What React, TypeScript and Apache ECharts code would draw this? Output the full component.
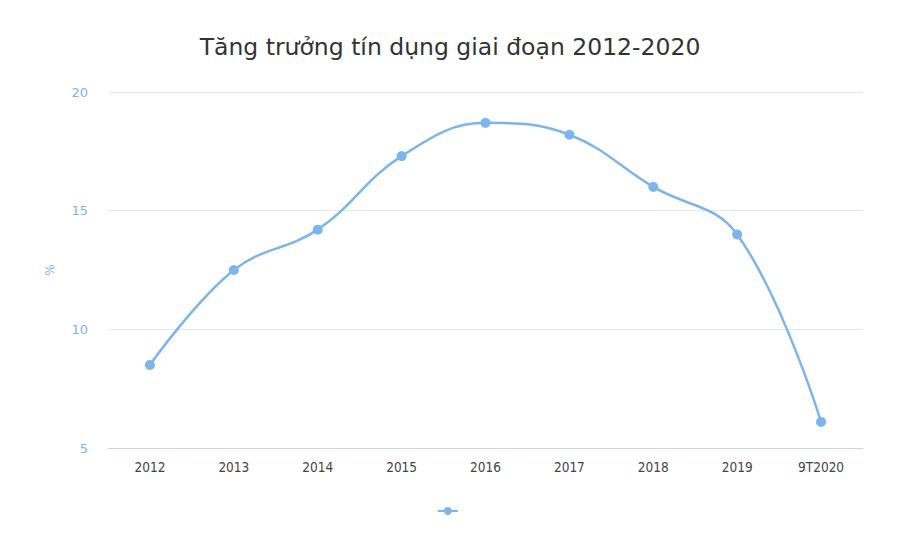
import React, { useEffect, useRef } from "react";
import * as echarts from "echarts";

const categories = ["2012", "2013", "2014", "2015", "2016", "2017", "2018", "2019", "9T2020"];
const creditGrowth = [8.5, 12.5, 14.2, 17.3, 18.7, 18.2, 16.0, 14.0, 6.1];
const titleText = "Tăng trưởng tín dụng giai đoạn 2012-2020";
const yAxisName = "%";
const seriesName = " ";

export default function App() {
  const ref = useRef<HTMLDivElement>(null);
  useEffect(() => {
    if (!ref.current) return;
    const chart = echarts.init(ref.current, undefined, { renderer: "svg" });
    chart.setOption({
      animation: false,
      backgroundColor: "#ffffff",
      title: {
        text: titleText,
        left: "center",
        top: 30,
        textStyle: {
          fontFamily: "DejaVu Sans",
          fontSize: 23.5,
          fontWeight: "normal",
          color: "#333333",
        },
      },
      legend: {
        data: [seriesName],
        bottom: 24,
        left: "center",
        itemWidth: 20,
        itemHeight: 10,
        itemGap: 0,
        textStyle: { fontSize: 1 },
      },
      grid: { left: 108, right: 37, top: 92, bottom: 96, containLabel: false },
      xAxis: {
        type: "category",
        data: categories,
        boundaryGap: true,
        axisLine: { lineStyle: { color: "#ccd6eb" } },
        axisTick: { show: false },
        axisLabel: {
          color: "#444444",
          fontFamily: "DejaVu Sans Condensed",
          fontSize: 13.5,
          margin: 12,
        },
      },
      yAxis: {
        type: "value",
        min: 5,
        max: 20,
        interval: 5,
        name: yAxisName,
        nameLocation: "middle",
        nameGap: 52,
        nameRotate: 90,
        nameTextStyle: { color: "#7cb5ec", fontSize: 12, fontFamily: "DejaVu Sans" },
        axisLine: { show: false },
        axisTick: { show: false },
        axisLabel: {
          color: "#7cb5ec",
          fontFamily: "DejaVu Sans",
          fontSize: 13,
          margin: 20,
        },
        splitLine: { lineStyle: { color: "#e6e6e6" } },
      },
      series: [
        {
          name: seriesName,
          type: "line",
          data: creditGrowth,
          smooth: 0.4,
          symbol: "circle",
          symbolSize: 10,
          lineStyle: { color: "#7cb5ec", width: 2.5 },
          itemStyle: { color: "#7cb5ec" },
        },
      ],
    });
    return () => chart.dispose();
  }, []);
  return <div ref={ref} style={{ width: 900, height: 544, margin: -8 }} />;
}
